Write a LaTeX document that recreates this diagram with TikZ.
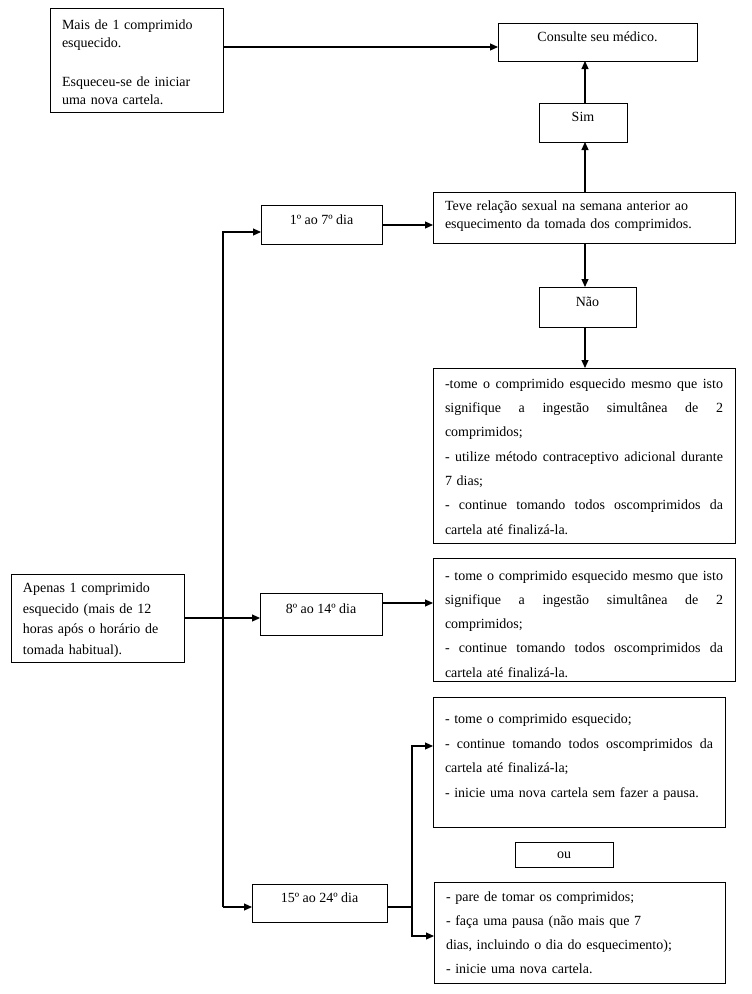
\documentclass[tikz,border=0pt]{standalone}
\usepackage{fontspec}
\setmainfont{Liberation Serif}
\usetikzlibrary{arrows.meta,calc}
\newcommand\jl[2]{\leavevmode\hbox to #1{\spaceskip=0.25em plus 1fil minus 0.05em\relax #2}}
\begin{document}
\begin{tikzpicture}[x=1pt,y=-1pt,
  bx/.style={draw, line width=0.9pt, outer sep=0pt, inner xsep=0pt, inner ysep=0pt,
    anchor=north west, text height=10pt, font=\fontsize{14pt}{17pt}\selectfont},
  tb/.style={draw, line width=0.9pt, outer sep=0pt, inner xsep=12pt, inner ysep=0pt,
    anchor=north west, text height=10pt, align=left},
  arr/.style={line width=1.1pt, -{Triangle[length=8pt,width=7pt]}},
  ln/.style={line width=1.1pt}]
\useasboundingbox (0,0) rectangle (752,994);

% single-line boxes
\node[bx, minimum width=199pt, minimum height=38pt, text depth=10.6pt] (consult) at (498,23) {Consulte seu médico.};
\node[bx, minimum width=88pt, minimum height=39pt, text depth=11.6pt] (sim) at (539,103) {Sim};
\node[bx, minimum width=97pt, minimum height=40pt, text depth=12pt] (nao) at (539,287) {Não};
\node[bx, minimum width=121pt, minimum height=39pt, text depth=10.4pt] (d1) at (261,205) {1º ao 7º dia};
\node[bx, minimum width=122pt, minimum height=42pt, text depth=12pt] (d8) at (260,593) {8º ao 14º dia};
\node[bx, minimum width=135pt, minimum height=38pt, text depth=10.6pt] (d15) at (252,884) {15º ao 24º dia};
\node[bx, minimum width=98pt, minimum height=25pt, text depth=2.4pt] (ou) at (515,842) {ou};

% multi-line boxes
\node[tb, text width=149pt, minimum height=104pt, text depth=71.4pt,
  font=\fontsize{14pt}{18pt}\selectfont] (tl) at (50,8)
  {Mais de 1 comprimido\\ esquecido.\\[20.7pt] Esqueceu-se de iniciar\\ uma nova cartela.};
\node[tb, text width=278pt, minimum height=51pt, text depth=23.6pt,
  font=\fontsize{14pt}{17.6pt}\selectfont] (teve) at (433,192)
  {Teve relação sexual na semana anterior ao\\ esquecimento da tomada dos comprimidos.};
\node[tb, text width=278pt, minimum height=175pt, text depth=144.4pt,
  font=\fontsize{14pt}{24.3pt}\selectfont] (b1) at (433,368)
  {\jl{278pt}{-tome o comprimido esquecido mesmo que isto}\\
   \jl{278pt}{signifique a ingestão simultânea de 2}\\
   comprimidos;\\
   \jl{278pt}{- utilize método contraceptivo adicional durante}\\
   7 dias;\\
   \jl{278pt}{- continue tomando todos oscomprimidos da}\\
   cartela até finalizá-la.};
\node[tb, text width=149pt, minimum height=88pt, text depth=60.6pt,
  font=\fontsize{14pt}{20.5pt}\selectfont] (apenas) at (11,574)
  {Apenas 1 comprimido\\ esquecido (mais de 12\\ horas após o horário de\\ tomada habitual).};
\node[tb, text width=278pt, minimum height=123pt, text depth=89pt,
  font=\fontsize{14pt}{24.3pt}\selectfont] (b2) at (433,558)
  {\jl{278pt}{- tome o comprimido esquecido mesmo que isto}\\
   \jl{278pt}{signifique a ingestão simultânea de 2}\\
   comprimidos;\\
   \jl{278pt}{- continue tomando todos oscomprimidos da}\\
   cartela até finalizá-la.};
\node[tb, text width=268pt, minimum height=130pt, text depth=86.6pt,
  font=\fontsize{14pt}{24.5pt}\selectfont] (b3) at (433,697)
  {- tome o comprimido esquecido;\\
   \jl{268pt}{- continue tomando todos oscomprimidos da}\\
   cartela até finalizá-la;\\
   - inicie uma nova cartela sem fazer a pausa.};
\node[tb, text width=267pt, minimum height=101pt, text depth=71.6pt,
  font=\fontsize{14pt}{23.9pt}\selectfont] (b4) at (434,882)
  {- pare de tomar os comprimidos;\\
   - faça uma pausa (não mais que 7\\
   dias, incluindo o dia do esquecimento);\\
   - inicie uma nova cartela.};

% connectors
\coordinate (ax) at (585,0);
\coordinate (p1) at ([yshift=-5pt]consult.west);
\draw[arr] (p1 -| tl.east) -- (p1);
\draw[arr] (sim.north -| ax) -- (consult.south -| ax);
\draw[arr] (teve.north -| ax) -- (sim.south -| ax);
\draw[arr] (teve.south -| ax) -- (nao.north -| ax);
\draw[arr] (nao.south -| ax) -- (b1.north -| ax);
\coordinate (p0) at ([yshift=-0.5pt]d1.east);
\draw[arr] (p0) -- (p0 -| teve.west);

\coordinate (j1) at (223,232);
\coordinate (j3) at (223,907);
\draw[arr] (j3) -- (j1) -- (j1 -| d1.west);
\draw[arr] (j3) -- (j3 -| d15.west);
\draw[arr] (apenas.east) -- (apenas.east -| d8.west);
\coordinate (p2) at ([yshift=11pt]d8.east);
\draw[arr] (p2) -- (p2 -| b2.west);

\coordinate (j4) at (412,907);
\coordinate (k3) at (412,746);
\coordinate (k4) at (412,936);
\draw[ln] (j4 -| d15.east) -- (j4);
\draw[arr] (j4) -- (k3) -- (k3 -| b3.west);
\draw[arr] (j4) -- (k4) -- (k4 -| b4.west);
\end{tikzpicture}
\end{document}
